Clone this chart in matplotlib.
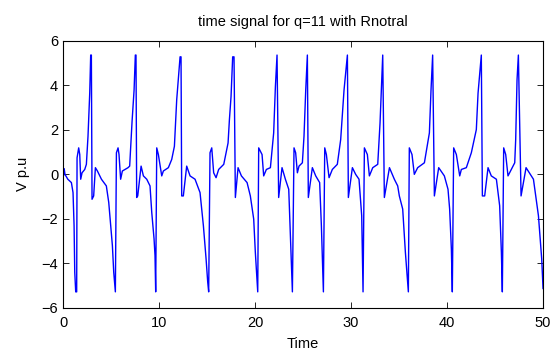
import matplotlib
matplotlib.use("Agg")
import matplotlib.pyplot as plt

# time signal (Time, V p.u)
time = [0.0, 0.05, 0.12, 0.2, 0.5, 0.87, 1.04, 1.15, 1.22, 1.32, 1.42, 1.46, 1.63, 1.74, 1.84, 1.98, 2.26, 2.43, 2.6, 2.78, 2.88, 2.95,
        3.02, 3.19, 3.37, 3.58, 4.0, 4.51, 4.76, 4.96, 5.14, 5.28, 5.45, 5.56, 5.73, 5.83, 6.0, 6.18, 6.77, 6.94, 7.05, 7.19, 7.4, 7.53, 7.6,
        7.67, 7.78, 8.13, 8.37, 8.72, 9.06, 9.24, 9.48, 9.58, 9.65, 9.76, 9.93, 10.28, 10.45, 10.97, 11.32, 11.6, 11.84, 12.19, 12.29,
        12.36, 12.53, 12.88, 13.23, 13.75, 14.27, 14.62, 14.9, 15.07, 15.17, 15.31, 15.49, 15.69, 15.94, 16.21, 16.74, 16.98, 17.19, 17.33, 17.5, 17.67, 17.81,
        17.95, 18.23, 18.58, 19.17, 19.51, 19.86, 20.03, 20.28, 20.38, 20.73, 20.9, 21.18, 21.6, 21.94, 22.12, 22.29,
        22.46, 22.81, 23.16, 23.51, 23.75, 23.89, 24.06, 24.23, 24.41, 24.58, 24.93, 25.1, 25.28, 25.45,
        25.55, 25.97, 26.32, 26.73, 26.91, 27.12, 27.26, 27.43, 27.71, 28.05, 28.57, 28.92, 29.27, 29.62,
        29.72, 30.14, 30.48, 30.83, 31.11, 31.25, 31.39, 31.7, 31.91, 32.26, 32.78, 33.02, 33.23, 33.3,
        33.47, 34.0, 34.51, 34.86, 35.03, 35.38, 35.66, 35.97, 36.07, 36.35, 36.59, 36.94, 37.64, 38.16, 38.33, 38.5,
        38.68, 39.13, 39.72, 40.1, 40.27, 40.45, 40.55, 40.69, 40.97, 41.32, 41.49, 42.01, 42.53, 43.05, 43.23, 43.57,
        43.68, 43.92, 44.27, 44.61, 45.14, 45.48, 45.66, 45.76, 45.9, 46.11, 46.35, 46.7, 47.05, 47.15, 47.29, 47.43,
        47.71, 48.23, 49.0, 49.52, 49.86, 50.0]
vpu = [0.3, -0.05, 0.25, 0.0, -0.22, -0.37, -0.82, -2.31, -4.4, -5.28, -5.28, 0.74, 1.19, 0.89, -0.22, 0.07, 0.22, 0.45, 1.71, 3.65, 5.36, 5.36,
       -1.12, -0.97, 0.3, 0.15, -0.22, -0.52, -1.26, -2.31, -3.2, -4.4, -5.28, 0.97, 1.19, 0.89, -0.22, 0.15, 0.3, 0.37, 1.26, 2.38, 3.79, 5.36, 5.36,
       -1.04, -0.97, 0.37, -0.07, -0.22, -0.52, -1.71, -2.9, -3.65, -5.28, 1.19, 0.89, -0.07, 0.15, 0.3, 0.67, 1.26, 3.35, 5.28, 5.28,
       -0.97, -0.97, 0.37, -0.07, -0.22, -0.82, -2.31, -3.8, -4.84, -5.28, 0.97, 1.19, 0.07, -0.15, 0.22, 0.45, 0.97, 1.41, 2.46, 3.5, 5.28, 5.28,
       -1.04, 0.3, -0.07, -0.37, -0.97, -2.01, -3.5, -5.28, 1.19, 0.89, -0.07, 0.22, 0.3, 1.86, 3.94, 5.36,
       -1.04, 0.3, -0.22, -0.67, -3.5, -5.28, 1.19, 0.97, 0.07, 0.37, 0.52, 1.71, 3.79, 5.36,
       -1.04, 0.3, -0.07, -0.37, -2.31, -5.28, 1.19, 0.89, -0.15, 0.22, 0.45, 1.56, 3.79, 5.36,
       -1.04, 0.3, 0.0, -0.22, -1.86, -5.28, 1.19, 0.89, -0.07, 0.3, 0.45, 2.31, 4.54, 5.36,
       -1.04, 0.3, -0.22, -0.52, -0.97, -1.56, -3.5, -5.28, 1.19, 0.89, 0.0, 0.3, 0.52, 1.86, 3.79, 5.36,
       -0.97, 0.3, -0.07, -0.67, -1.56, -3.35, -5.28, 1.19, 0.89, -0.07, 0.22, 0.3, 0.97, 2.01, 3.65, 5.36,
       -0.97, -0.97, 0.3, -0.07, -0.22, -1.41, -3.5, -5.28, 1.19, 0.89, -0.07, 0.22, 0.52, 1.56, 4.24, 5.36,
       -0.97, 0.3, -0.22, -1.86, -3.8, -5.13]

x_ticks = [0, 10, 20, 30, 40, 50]
y_ticks = [-6, -4, -2, 0, 2, 4, 6]

plt.rcParams['font.family'] = ['Liberation Sans', 'DejaVu Sans']

fig = plt.figure(figsize=(5.53, 3.58), dpi=100)
ax = fig.add_axes([0.114, 0.140, 0.868, 0.746])
ax.plot(time, vpu, color='#0000ff', linewidth=1.0)

ax.set_xlim(0, 50)
ax.set_ylim(-6, 6)
ax.set_xticks(x_ticks)
ax.set_yticks(y_ticks)
ax.tick_params(direction='in', top=True, right=True, labelsize=10.5, length=4, width=0.6)
ax.tick_params(axis='x', pad=6)
for s in ax.spines.values():
    s.set_linewidth(0.8)

ax.set_title("time signal for q=11 with Rnotral", fontsize=10.5, pad=11)
ax.set_xlabel("Time", fontsize=10.5, labelpad=5)
ax.set_ylabel("V p.u", fontsize=10.5, labelpad=8)

fig.savefig("out.png", dpi=100)
